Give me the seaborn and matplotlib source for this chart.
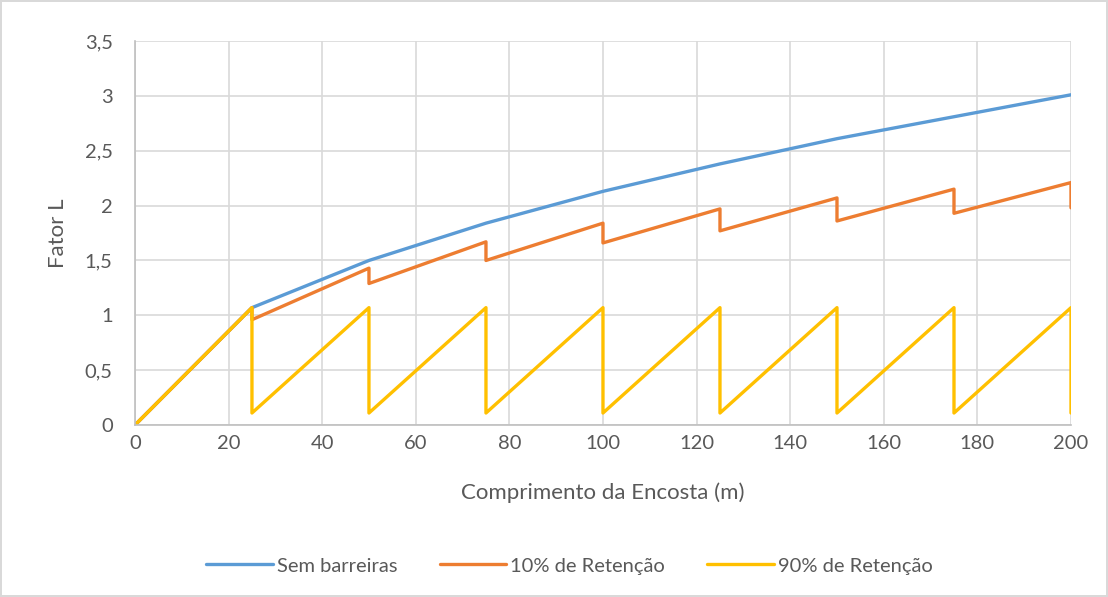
import numpy as np
import pandas as pd
import seaborn as sns
import matplotlib.pyplot as plt
from matplotlib.ticker import FuncFormatter

# valores
x_sem = [0, 25, 50, 75, 100, 125, 150, 175, 200]
y_sem = [0, 1.07, 1.50, 1.84, 2.13, 2.38, 2.61, 2.81, 3.01]

x_10 = [0, 25, 25, 50, 50, 75, 75, 100, 100, 125, 125, 150, 150, 175, 175, 200, 200]
y_10 = [0, 1.07, 0.96, 1.43, 1.29, 1.67, 1.50, 1.84, 1.66, 1.97, 1.77, 2.07, 1.86, 2.15, 1.93, 2.21, 1.98]

x_90 = [0, 25, 25, 50, 50, 75, 75, 100, 100, 125, 125, 150, 150, 175, 175, 200, 200]
y_90 = [0, 1.07, 0.11, 1.07, 0.11, 1.07, 0.11, 1.07, 0.11, 1.07, 0.11, 1.07, 0.11, 1.07, 0.11, 1.07, 0.11]

series = ["Sem barreiras", "10% de Retenção", "90% de Retenção"]
cores = ["#5B9BD5", "#ED7D31", "#FFC000"]

df = pd.concat([
    pd.DataFrame({"x": x_sem, "y": y_sem, "serie": series[0]}),
    pd.DataFrame({"x": x_10, "y": y_10, "serie": series[1]}),
    pd.DataFrame({"x": x_90, "y": y_90, "serie": series[2]}),
], ignore_index=True)

sns.set_style("white")
plt.rcParams["font.family"] = ["Lato", "DejaVu Sans"]
txt = "#595959"

f = plt.figure(figsize=(11.08, 5.97), dpi=100)
f.patch.set_edgecolor("#d9d9d9")
f.patch.set_linewidth(1.5)
ax = f.add_axes([0.1218, 0.288, 0.8448, 0.6433])

sns.lineplot(data=df, x="x", y="y", hue="serie", hue_order=series, palette=cores,
             sort=False, estimator=None, linewidth=2.4, ax=ax)

ax.set_xlim(0, 200)
ax.set_ylim(0, 3.5)
ax.set_xticks(np.arange(0, 201, 20))
ax.set_yticks(np.arange(0, 3.51, 0.5))
ax.yaxis.set_major_formatter(FuncFormatter(lambda v, p: ("%g" % v).replace(".", ",")))
ax.grid(True, color="#d9d9d9", linewidth=1.2)
ax.set_axisbelow(True)
for s in ["top", "right"]:
    ax.spines[s].set_visible(False)
for s in ["left", "bottom"]:
    ax.spines[s].set_color("#bfbfbf")
    ax.spines[s].set_linewidth(1.2)
ax.tick_params(labelsize=14.5, colors=txt, length=0)
ax.tick_params(axis="x", pad=7)
ax.tick_params(axis="y", pad=16)
ax.set_xlabel("Comprimento da Encosta (m)", fontsize=16, color=txt, labelpad=22)
ax.set_ylabel("Fator L", fontsize=16, color=txt, labelpad=12)

h, l = ax.get_legend_handles_labels()
ax.get_legend().remove()
f.legend(h, l, loc="center", bbox_to_anchor=(0.514, 0.052), ncol=3, frameon=False,
         fontsize=14.5, labelcolor=txt, handlelength=3.3, handletextpad=0.2, columnspacing=2.1)

f.savefig("out.png", dpi=100)
